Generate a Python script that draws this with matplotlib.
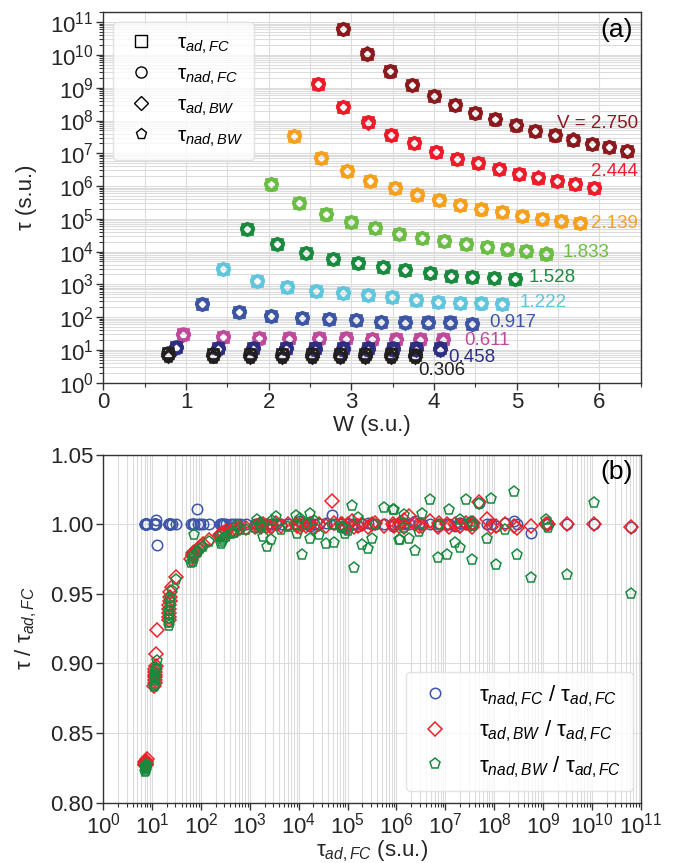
import numpy as np
import matplotlib
matplotlib.use("Agg")
import matplotlib.pyplot as plt
from matplotlib.lines import Line2D
from matplotlib.ticker import LogLocator, MultipleLocator, NullFormatter, FormatStrFormatter

plt.rcParams['font.family'] = ['Liberation Sans', 'DejaVu Sans']
plt.rcParams['mathtext.fontset'] = 'custom'
plt.rcParams['mathtext.rm'] = 'Liberation Sans'
plt.rcParams['mathtext.it'] = 'Liberation Sans:italic'
plt.rcParams['mathtext.bf'] = 'Liberation Sans:bold'

# ---------------- data ----------------
V_names = ['V = 2.750', '2.444', '2.139', '1.833', '1.528', '1.222', '0.917', '0.611', '0.458', '0.306']

W_2750 = [2.893, 3.190, 3.465, 3.739, 4.000, 4.254, 4.500, 4.742, 4.987, 5.225, 5.459, 5.685, 5.906, 6.115, 6.337]
L_2750 = [10.80, 10.04, 9.50, 9.07, 8.75, 8.47, 8.23, 8.04, 7.85, 7.68, 7.55, 7.42, 7.29, 7.19, 7.07]
nadFC_2750 = [0.998, 1.000, 1.000, 1.000, 0.994, 1.000, 1.001, 0.999, 1.000, 1.015, 1.000, 1.000, 1.001, 0.999, 1.000]
adBW_2750 = [0.998, 1.000, 1.000, 1.000, 0.999, 0.997, 1.000, 0.999, 1.004, 1.016, 0.998, 1.001, 0.999, 1.000, 0.998]
nadBW_2750 = [0.950, 1.0156, 0.9634, 1.003, 0.9614, 0.9777, 0.9962, 0.9706, 0.9897, 1.0149, 0.9741, 1.0177, 0.9833, 0.9868, 1.010]

W_2444 = [2.598, 2.900, 3.203, 3.485, 3.755, 4.020, 4.278, 4.532, 4.780, 5.023, 5.253, 5.487, 5.709, 5.930]
L_2444 = [9.11, 8.41, 7.94, 7.57, 7.30, 7.04, 6.84, 6.69, 6.52, 6.38, 6.26, 6.15, 6.07, 5.95]
nadFC_2444 = [1.000, 1.002, 1.000, 1.000, 1.001, 1.000, 0.999, 1.000, 1.000, 1.002, 1.000, 1.001, 1.000, 1.000]
adBW_2444 = [1.000, 0.999, 0.998, 1.001, 0.999, 1.000, 0.998, 1.002, 0.999, 1.000, 1.006, 0.998, 1.001, 0.999]
nadBW_2444 = [0.997, 1.0232, 1.0179, 0.999, 1.0029, 0.9777, 0.976, 1.0172, 1.0077, 0.981, 0.9897, 1.0065, 0.9885, 1.0105]

W_2139 = [2.308, 2.631, 2.941, 3.231, 3.525, 3.795, 4.060, 4.319, 4.573, 4.826, 5.068, 5.306, 5.535, 5.761]
L_2139 = [7.52, 6.87, 6.46, 6.16, 5.93, 5.74, 5.57, 5.42, 5.29, 5.21, 5.08, 5.00, 4.94, 4.86]
nadFC_2139 = [1.000, 1.000, 1.001, 1.000, 0.999, 1.000, 1.000, 1.001, 1.000, 0.999, 1.000, 1.000, 0.997, 1.000]
adBW_2139 = [1.000, 1.001, 0.999, 1.003, 1.000, 0.999, 1.001, 0.998, 1.000, 0.999, 1.002, 1.000, 0.998, 1.000]
nadBW_2139 = [1.0017, 0.9994, 0.9945, 0.997, 1.0105, 1.012, 0.9995, 0.9825, 0.985, 1.0048, 1.0129, 0.995, 0.9928, 0.997]

W_1833 = [2.023, 2.365, 2.687, 2.993, 3.291, 3.578, 3.860, 4.120, 4.383, 4.640, 4.882, 5.116, 5.358]
L_1833 = [6.05, 5.49, 5.14, 4.89, 4.73, 4.55, 4.42, 4.32, 4.23, 4.15, 4.07, 4.02, 3.94]
nadFC_1833 = [1.000, 1.000, 1.000, 0.998, 1.000, 1.001, 1.000, 1.000, 0.999, 1.000, 1.000, 1.002, 1.000]
adBW_1833 = [0.999, 1.000, 0.998, 1.000, 1.001, 0.999, 1.000, 0.997, 1.000, 0.999, 1.000, 0.998, 1.000]
nadBW_1833 = [0.9885, 0.9897, 0.9686, 0.998, 0.9866, 0.9861, 0.9926, 1.002, 0.9897, 1.000, 0.9777, 1.004, 1.0057]

W_1528 = [1.733, 2.103, 2.446, 2.772, 3.082, 3.384, 3.654, 3.948, 4.210, 4.464, 4.725, 4.975]
L_1528 = [4.68, 4.22, 3.96, 3.77, 3.64, 3.54, 3.44, 3.34, 3.26, 3.23, 3.20, 3.15]
nadFC_1528 = [1.007, 1.000, 1.000, 1.000, 1.000, 1.000, 1.000, 1.000, 1.000, 1.000, 1.000, 1.000]
adBW_1528 = [1.0165, 1.000, 0.999, 1.000, 0.999, 1.001, 0.998, 0.999, 1.000, 0.998, 1.000, 0.999]
nadBW_1528 = [0.9993, 1.0077, 0.9933, 0.998, 0.9957, 1.0053, 0.9888, 0.9837, 0.9909, 0.998, 1.000, 1.0034]

W_1222 = [1.450, 1.854, 2.216, 2.567, 2.893, 3.203, 3.497, 3.779, 4.049, 4.319, 4.573, 4.826]
L_1222 = [3.46, 3.11, 2.93, 2.80, 2.73, 2.67, 2.62, 2.52, 2.47, 2.44, 2.42, 2.40]
nadFC_1222 = [1.000, 1.000, 1.000, 1.000, 1.000, 1.000, 1.000, 1.000, 1.000, 1.000, 1.000, 1.000]
adBW_1222 = [0.999, 0.998, 0.997, 0.997, 0.996, 0.996, 0.995, 0.995, 0.994, 0.994, 0.993, 0.993]
nadBW_1222 = [1.002, 0.997, 0.9957, 0.996, 0.999, 0.994, 0.993, 0.991, 0.990, 0.989, 0.987, 0.986]

W_0917 = [1.196, 1.640, 2.027, 2.397, 2.731, 3.050, 3.356, 3.646, 3.928, 4.198, 4.464]
L_0917 = [2.39, 2.16, 2.04, 1.98, 1.94, 1.91, 1.86, 1.84, 1.84, 1.84, 1.79]
nadFC_0917 = [1.000, 1.000, 1.000, 1.000, 1.000, 1.011, 1.000, 1.000, 1.000, 1.000, 1.000]
adBW_0917 = [0.992, 0.989, 0.986, 0.984, 0.982, 0.981, 0.980, 0.979, 0.978, 0.977, 0.975]
nadBW_0917 = [0.991, 0.987, 0.984, 0.982, 0.980, 0.979, 0.992, 0.977, 0.975, 0.973, 0.972]

W_0611 = [0.967, 1.450, 1.882, 2.248, 2.607, 2.930, 3.250, 3.545, 3.830, 4.109]
L_0611 = [1.485, 1.40, 1.37, 1.36, 1.355, 1.35, 1.345, 1.34, 1.34, 1.335]
nadFC_0611 = [1.000, 1.000, 1.000, 1.000, 1.000, 1.000, 1.000, 1.000, 1.000, 1.000]
adBW_0611 = [0.962, 0.955, 0.951, 0.948, 0.945, 0.942, 0.939, 0.936, 0.933, 0.931]
nadBW_0611 = [0.960, 0.952, 0.947, 0.944, 0.941, 0.938, 0.935, 0.932, 0.929, 0.927]

W_0458 = [0.875, 1.382, 1.813, 2.204, 2.558, 2.893, 3.203, 3.505, 3.779, 4.077]
L_0458 = [1.10, 1.07, 1.07, 1.065, 1.06, 1.06, 1.055, 1.05, 1.05, 1.045]
nadFC_0458 = [0.985, 1.003, 1.000, 1.000, 1.000, 1.000, 1.000, 1.000, 1.000, 1.000]
adBW_0458 = [0.924, 0.907, 0.898, 0.896, 0.894, 0.892, 0.890, 0.888, 0.886, 0.884]
nadBW_0458 = [0.902, 0.897, 0.895, 0.893, 0.891, 0.889, 0.887, 0.885, 0.884, 0.883]

W_0306 = [0.786, 1.329, 1.773, 2.163, 2.526, 2.860, 3.170, 3.477, 3.767]
L_0306 = [0.90, 0.88, 0.875, 0.87, 0.87, 0.865, 0.86, 0.86, 0.855]
nadFC_0306 = [1.000, 1.000, 1.000, 1.000, 1.000, 1.000, 1.000, 1.000, 1.000]
adBW_0306 = [0.831, 0.830, 0.829, 0.828, 0.828, 0.827, 0.828, 0.829, 0.827]
nadBW_0306 = [0.827, 0.826, 0.825, 0.824, 0.824, 0.823, 0.825, 0.826, 0.822]

series = [
    (W_2750, L_2750, nadFC_2750, adBW_2750, nadBW_2750),
    (W_2444, L_2444, nadFC_2444, adBW_2444, nadBW_2444),
    (W_2139, L_2139, nadFC_2139, adBW_2139, nadBW_2139),
    (W_1833, L_1833, nadFC_1833, adBW_1833, nadBW_1833),
    (W_1528, L_1528, nadFC_1528, adBW_1528, nadBW_1528),
    (W_1222, L_1222, nadFC_1222, adBW_1222, nadBW_1222),
    (W_0917, L_0917, nadFC_0917, adBW_0917, nadBW_0917),
    (W_0611, L_0611, nadFC_0611, adBW_0611, nadBW_0611),
    (W_0458, L_0458, nadFC_0458, adBW_0458, nadBW_0458),
    (W_0306, L_0306, nadFC_0306, adBW_0306, nadBW_0306),
]

# ---------------- styles ----------------
colors = ['#8B1A1F', '#EC1C2A', '#F7A01D', '#6CBD45', '#1A8A3F',
          '#5FC6DD', '#3C55A5', '#BF4A9B', '#2D2E83', '#231F20']
label_pos = [(5.49, 10**7.90), (5.894, 10**6.43), (5.894, 10**4.86), (5.559, 10**3.96),
             (5.144, 10**3.21), (5.036, 10**2.45), (4.665, 10**1.84), (4.371, 10**1.30),
             (4.169, 10**0.774), (3.807, 10**0.357)]
c_blue, c_red, c_green = '#3E56A8', '#EE2128', '#178A3E'
grid_c = '#DCDCDC'
spine_c = '#333333'
txt_c = '#262626'

fig = plt.figure(figsize=(6.78, 8.63), dpi=100)
ax1 = fig.add_axes([0.1524, 0.5566, 0.7927, 0.4291])
ax2 = fig.add_axes([0.1524, 0.0701, 0.7927, 0.4030])

for ax in (ax1, ax2):
    for sp in ax.spines.values():
        sp.set_color(spine_c)
        sp.set_linewidth(1.0)
    ax.tick_params(which='major', direction='out', length=5, width=1, color=spine_c, pad=2,
                   labelsize=16, labelcolor=txt_c, top=False, right=False)
    ax.tick_params(which='minor', direction='out', length=3, width=0.8, color=spine_c,
                   top=False, right=False)
    ax.set_axisbelow(True)

# ---------------- panel (a) ----------------
ms, mew = 8.5, 1.9
for (W, L, rf, rb, rnb), col, name, pos in zip(series, colors, V_names, label_pos):
    tau = 10 ** np.array(L)
    W = np.array(W)
    kw = dict(ls='none', mfc='none', mec=col, mew=mew)
    ax1.plot(W, tau, marker='s', ms=ms * 0.82, **kw)
    ax1.plot(W, tau * np.array(rf), marker='o', ms=ms, **kw)
    ax1.plot(W, tau * np.array(rb), marker='D', ms=ms * 0.72, **kw)
    ax1.plot(W, tau * np.array(rnb), marker='p', ms=ms, **kw)
    ax1.text(pos[0], pos[1], name, color=col, fontsize=13.5, ha='left', va='center')

ax1.set_yscale('log')
ax1.set_xlim(0, 6.5)
ax1.set_ylim(1, 2e11)
ax1.xaxis.set_major_locator(MultipleLocator(1))
ax1.xaxis.set_minor_locator(MultipleLocator(0.5))
ax1.yaxis.set_major_locator(LogLocator(base=10, numticks=30))
ax1.yaxis.set_minor_locator(LogLocator(base=10, subs=np.arange(2, 10), numticks=300))
ax1.yaxis.set_minor_formatter(NullFormatter())
ax1.grid(which='both', color=grid_c, lw=0.8)
ax1.set_xlabel('W (s.u.)', fontsize=16, color=txt_c, labelpad=1)
ax1.set_ylabel('τ (s.u.)', fontsize=16, color=txt_c, labelpad=9)
ax1.text(0.985, 0.985, '(a)', transform=ax1.transAxes, ha='right', va='top', fontsize=19, color='k')

leg_handles = [
    Line2D([], [], ls='none', marker='s', mfc='none', mec='k', mew=1, ms=8),
    Line2D([], [], ls='none', marker='o', mfc='none', mec='k', mew=1, ms=8),
    Line2D([], [], ls='none', marker='D', mfc='none', mec='k', mew=1, ms=7),
    Line2D([], [], ls='none', marker='p', mfc='none', mec='k', mew=1, ms=8),
]
leg_labels = [r'τ$_{ad,FC}$', r'τ$_{nad,FC}$', r'τ$_{ad,BW}$', r'τ$_{nad,BW}$']
leg1 = ax1.legend(leg_handles, leg_labels, loc='upper left', bbox_to_anchor=(0.018, 0.974),
                  borderaxespad=0, fontsize=15, labelspacing=0.42, handletextpad=0.9,
                  handlelength=1.6, borderpad=0.55, frameon=True, fancybox=True)
leg1.get_frame().set_edgecolor('#DDDDDD')

# ---------------- panel (b) ----------------
tau_all = np.concatenate([10 ** np.array(s[1]) for s in series])
rf_all = np.concatenate([s[2] for s in series])
rb_all = np.concatenate([s[3] for s in series])
rnb_all = np.concatenate([s[4] for s in series])

ax2.plot(tau_all, rf_all, ls='none', marker='o', mfc='none', mec=c_blue, mew=1.1, ms=7.5,
         label=r'τ$_{nad,FC}$ / τ$_{ad,FC}$')
ax2.plot(tau_all, rb_all, ls='none', marker='D', mfc='none', mec=c_red, mew=1.1, ms=7,
         label=r'τ$_{ad,BW}$ / τ$_{ad,FC}$')
ax2.plot(tau_all, rnb_all, ls='none', marker='p', mfc='none', mec=c_green, mew=1.1, ms=8,
         label=r'τ$_{nad,BW}$ / τ$_{ad,FC}$')

ax2.set_xscale('log')
ax2.set_xlim(1, 1e11)
ax2.set_ylim(0.80, 1.05)
ax2.xaxis.set_major_locator(LogLocator(base=10, numticks=30))
ax2.xaxis.set_minor_locator(LogLocator(base=10, subs=np.arange(2, 10), numticks=300))
ax2.xaxis.set_minor_formatter(NullFormatter())
ax2.yaxis.set_major_locator(MultipleLocator(0.05))
ax2.yaxis.set_major_formatter(FormatStrFormatter('%.2f'))
ax2.grid(which='major', axis='both', color=grid_c, lw=0.8)
ax2.grid(which='minor', axis='x', color=grid_c, lw=0.8)
ax2.set_xlabel(r'τ$_{ad,FC}$ (s.u.)', fontsize=16, color=txt_c, labelpad=0)
ax2.set_ylabel(r'τ / τ$_{ad,FC}$', fontsize=16, color=txt_c, labelpad=8)
ax2.text(0.985, 0.985, '(b)', transform=ax2.transAxes, ha='right', va='top', fontsize=19, color='k')

leg2 = ax2.legend(loc='lower right', bbox_to_anchor=(0.985, 0.034), borderaxespad=0,
                  fontsize=16, labelspacing=0.45, handletextpad=1.2, handlelength=1.6,
                  borderpad=0.5, frameon=True, fancybox=True)
leg2.get_frame().set_edgecolor('#DDDDDD')

fig.savefig('out.png', dpi=100)
